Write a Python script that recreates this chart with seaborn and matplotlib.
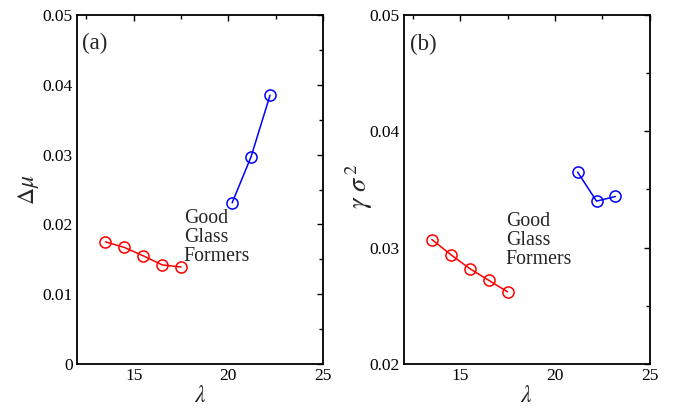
import matplotlib
matplotlib.use("Agg")
import matplotlib.pyplot as plt
import seaborn as sns
import pandas as pd
from matplotlib.ticker import MultipleLocator, FuncFormatter

# Data
lam_red = [13.5, 14.5, 15.5, 16.5, 17.5]
dmu_red = [0.0175, 0.0167, 0.0155, 0.0142, 0.0139]
lam_blue_a = [20.2, 21.2, 22.2]
dmu_blue = [0.0231, 0.0297, 0.0385]

gs2_red = [0.0307, 0.0294, 0.0282, 0.0272, 0.0262]
lam_blue_b = [21.2, 22.2, 23.2]
gs2_blue = [0.0365, 0.0340, 0.0344]

sns.set_style("white")
plt.rcParams['font.family'] = ['Liberation Serif', 'DejaVu Serif']
plt.rcParams['mathtext.fontset'] = 'stix'

fig = plt.figure(figsize=(6.88, 4.09), dpi=100)
W, H = 688, 409
ax1 = fig.add_axes([77 / W, 1 - 364 / H, (323 - 77) / W, (364 - 15) / H])
ax2 = fig.add_axes([403.5 / W, 1 - 364 / H, (649.5 - 403.5) / W, (364 - 15) / H])

def draw(ax, xs, ys, color):
    df = pd.DataFrame({"x": xs, "y": ys})
    sns.lineplot(data=df, x="x", y="y", ax=ax, color=color, lw=1.1,
                 marker="o", markersize=8, markerfacecolor="none",
                 markeredgecolor=color, markeredgewidth=1.1, sort=False)

draw(ax1, lam_red, dmu_red, "red")
draw(ax1, lam_blue_a, dmu_blue, "blue")
draw(ax2, lam_red, gs2_red, "red")
draw(ax2, lam_blue_b, gs2_blue, "blue")

ax1.set_xlim(12, 25)
ax1.set_ylim(0, 0.05)
ax2.set_xlim(12, 25)
ax2.set_ylim(0.02, 0.05)

fmt = FuncFormatter(lambda v, p: "0" if abs(v) < 1e-9 else f"{v:.2f}")
for ax in (ax1, ax2):
    ax.yaxis.set_major_locator(MultipleLocator(0.01))
    ax.yaxis.set_minor_locator(MultipleLocator(0.005))
    ax.yaxis.set_major_formatter(fmt)
    ax.xaxis.set_major_locator(MultipleLocator(5))
    ax.xaxis.set_minor_locator(MultipleLocator(2.5))
    ax.tick_params(which="both", direction="in", top=True, right=True,
                   labelsize=12.5, width=1.0, colors="black", pad=3)
    ax.tick_params(which="major", length=4)
    ax.tick_params(which="minor", length=3)
    for s in ax.spines.values():
        s.set_linewidth(1.3)
        s.set_color("black")
    ax.set_xlabel(r"$\lambda$", fontsize=17, labelpad=1)

ax1.set_ylabel(r"$\Delta\mu$", fontsize=17)
ax1.yaxis.set_label_coords(-0.145, 0.5)
ax2.set_ylabel(r"$\gamma\ \sigma^{\,2}$", fontsize=19)
ax2.yaxis.set_label_coords(-0.116, 0.51)

ax1.text(12.95, 0.0459, "(a)", fontsize=16.5, ha="center", va="center")
ax2.text(13.07, 0.0475, "(b)", fontsize=16.5, ha="center", va="center")

ax1.text(17.65, 0.0222, "Good\nGlass\nFormers", fontsize=14.3, ha="left", va="top",
         linespacing=1.0)
ax2.text(17.4, 0.0331, "Good\nGlass\nFormers", fontsize=14.3, ha="left", va="top",
         linespacing=1.0)

fig.savefig("out.png", dpi=100)
